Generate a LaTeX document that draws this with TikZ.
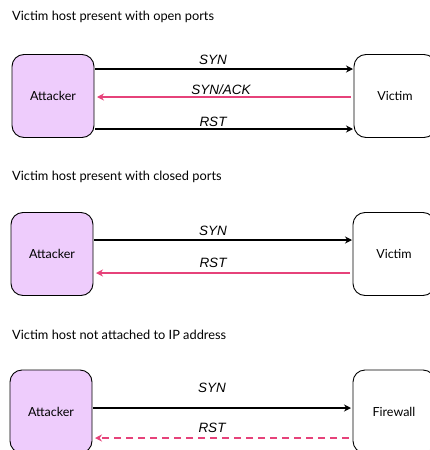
\documentclass[tikz,border=0pt]{standalone}
\usepackage{fontspec}
\setmainfont{Liberation Sans}
\newfontfamily\titlefont{Lato}
\usetikzlibrary{arrows.meta}
\definecolor{attfill}{RGB}{238,204,252}
\definecolor{pinkline}{RGB}{230,66,122}
\tikzset{
  hostbox/.style={draw=black, line width=0.9pt, rounded corners=12pt, minimum width=82pt, minimum height=83pt, inner sep=0pt, font=\titlefont\fontsize{12.5}{14}\selectfont},
  attbox/.style={hostbox, fill=attfill},
  ttl/.style={anchor=west, inner sep=0pt, font=\titlefont\fontsize{12.8}{14}\selectfont},
  msg/.style={line width=1.4pt, -{Stealth[length=7pt,width=7pt]}},
  reply/.style={msg, draw=pinkline},
  lbl/.style={inner sep=0pt, font=\itshape\fontsize{13.5}{15}\selectfont},
}
\begin{document}
\begin{tikzpicture}[x=1pt,y=-1pt]
\useasboundingbox (0,0) rectangle (430,450);
% block 1
\node[ttl] (t1) at (12,17) {Victim host present with open ports};
\node[attbox] (a1) at (53,96) {Attacker};
\node[hostbox] (v1) at (395,96) {Victim};
\coordinate (a1s) at (95,69); \coordinate (v1s) at (353,69);
\coordinate (v1a) at (351,97); \coordinate (a1a) at (97,97);
\coordinate (a1r) at (95,129); \coordinate (v1r) at (353,129);
\draw[msg] (a1s) -- (v1s);
\draw[reply] (v1a) -- (a1a);
\draw[msg] (a1r) -- (v1r);
\node[lbl] (l1a) at (213,60) {SYN};
\node[lbl] (l1b) at (221,90) {SYN/ACK};
\node[lbl] (l1c) at (213,122) {RST};
% block 2
\node[ttl] (t2) at (12,177) {Victim host present with closed ports};
\node[attbox] (a2) at (52,254) {Attacker};
\node[hostbox] (v2) at (394,254) {Victim};
\coordinate (a2s) at (94,240); \coordinate (v2s) at (352,240);
\coordinate (v2r) at (350,273); \coordinate (a2r) at (96,273);
\draw[msg] (a2s) -- (v2s);
\draw[reply] (v2r) -- (a2r);
\node[lbl] (l2a) at (213,231) {SYN};
\node[lbl] (l2b) at (213,263) {RST};
% block 3
\node[ttl] (t3) at (12,335) {Victim host not attached to IP address};
\node[attbox] (a3) at (51,411.5) {Attacker};
\node[hostbox] (f3) at (394,411.5) {Firewall};
\coordinate (a3s) at (93,408); \coordinate (f3s) at (351,408);
\coordinate (f3r) at (349,438); \coordinate (a3r) at (95,438);
\draw[msg] (a3s) -- (f3s);
\draw[reply, dash pattern=on 7pt off 5pt] (f3r) -- (a3r);
\node[lbl] (l3a) at (212,388) {SYN};
\node[lbl] (l3b) at (212,428) {RST};
\end{tikzpicture}
\end{document}
